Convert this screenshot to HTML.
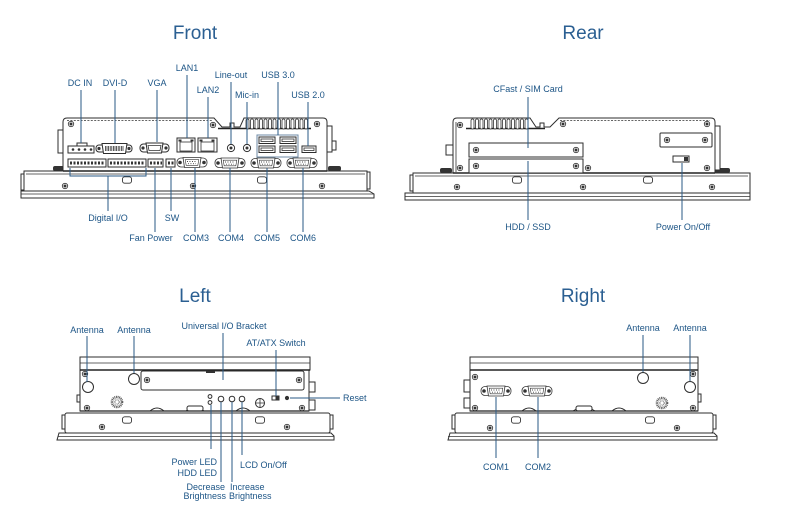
<!DOCTYPE html>
<html><head><meta charset="utf-8">
<style>
html,body{margin:0;padding:0;background:#fff;}
svg{display:block;}
.t{font-family:"Liberation Sans",Arial,sans-serif;font-size:9px;fill:#1d5586;}
.h{font-family:"Liberation Sans",Arial,sans-serif;font-size:19px;fill:#2b5f92;}
.c{stroke:#2a5a86;stroke-width:1;fill:none;}
.d{stroke:#2e2e2e;stroke-width:1;fill:#fff;}
.n{stroke:#333;stroke-width:0.8;fill:none;}
.k{fill:#333;stroke:none;}
</style></head>
<body>
<svg width="785" height="506" viewBox="0 0 785 506" xmlns="http://www.w3.org/2000/svg">
<defs>
 <g id="sc"><circle r="2.7" fill="#fff" stroke="#333" stroke-width="0.8"/><circle r="1.5" fill="#333"/></g>
 <rect id="sl" x="-4.5" y="-3.2" width="9" height="6.4" rx="2.2" fill="#fff" stroke="#333" stroke-width="0.9"/>
 <g id="db9">
  <rect x="-15" y="-4.5" width="30" height="9" rx="4" fill="#fff" stroke="#333" stroke-width="0.8"/>
  <circle cx="-12" cy="0" r="1.8" fill="#333"/>
  <circle cx="12" cy="0" r="1.8" fill="#333"/>
  <path d="M-9,-5 H9 L7.5,5 H-7.5 Z" fill="#fff" stroke="#333" stroke-width="0.8"/>
  <path d="M-6.8,-2.8 H6.8 L5.8,2.8 H-5.8 Z" fill="none" stroke="#333" stroke-width="0.6"/>
  <line x1="-5" y1="-1" x2="5" y2="-1" stroke="#333" stroke-width="0.9" stroke-dasharray="0.9,1.6"/>
  <line x1="-4" y1="1.2" x2="4" y2="1.2" stroke="#333" stroke-width="0.9" stroke-dasharray="0.9,1.6"/>
 </g>
 <g id="grill"><circle r="5" fill="none" stroke="#555" stroke-width="2.6" stroke-dasharray="0.9,0.7"/><circle r="2.2" fill="none" stroke="#777" stroke-width="1.4" stroke-dasharray="0.7,0.7"/></g>
 <g id="fin"><rect x="0" y="119" width="3" height="10" rx="1.5" fill="#fff" stroke="#333" stroke-width="0.8"/></g>
</defs>

<!-- Titles -->
<text class="h" x="195" y="39" text-anchor="middle">Front</text>
<text class="h" x="583" y="39" text-anchor="middle">Rear</text>
<text class="h" x="195" y="302" text-anchor="middle">Left</text>
<text class="h" x="583" y="302" text-anchor="middle">Right</text>

<!-- ================= FRONT ================= -->
<g>
 <rect class="d" x="24" y="171" width="343" height="20"/>
 <line class="n" x1="26" y1="174" x2="365" y2="174" stroke="#999"/>
 <path class="d" d="M21,191 H369 L374,194 V198 H21 Z"/>
 <line class="n" x1="21" y1="194" x2="374" y2="194"/>
 <rect class="d" x="21" y="174" width="3" height="16"/>
 <rect class="d" x="367" y="172" width="3" height="17"/>
 <use href="#sc" x="65" y="186"/><use href="#sc" x="193" y="186"/><use href="#sc" x="322" y="186"/>
 <use href="#sl" x="127" y="180"/><use href="#sl" x="262" y="180"/>
 <rect class="k" x="53" y="166" width="11" height="5" rx="2"/>
 <rect class="k" x="328" y="166" width="13" height="5" rx="2"/>
 <path class="d" stroke-width="1.1" d="M63,171 V122 Q63,118 67,118 H214 L222,127 H230 V123 H234 V127 H240 L244,118 H323 Q327,118 327,122 V171 Z"/>
 <line class="n" x1="67" y1="120.5" x2="213" y2="120.5" stroke-dasharray="2,1.4"/>
 <line x1="218" y1="128.5" x2="311" y2="128.5" stroke="#222" stroke-width="1.6"/>
 <use href="#fin" x="246"/><use href="#fin" x="250.5"/><use href="#fin" x="255"/><use href="#fin" x="259.5"/><use href="#fin" x="264"/><use href="#fin" x="268.5"/><use href="#fin" x="273"/><use href="#fin" x="277.5"/><use href="#fin" x="282"/><use href="#fin" x="286.5"/><use href="#fin" x="291"/><use href="#fin" x="295.5"/><use href="#fin" x="300"/><use href="#fin" x="304.5"/>
 <line x1="63" y1="171" x2="327" y2="171" stroke="#222" stroke-width="1.4"/>
 <use href="#sc" x="71" y="124"/><use href="#sc" x="213" y="125"/><use href="#sc" x="317" y="124"/>
 <rect class="d" x="58" y="130" width="5" height="23"/>
 <rect class="d" x="327" y="126" width="5" height="26"/>
 <rect class="d" x="332" y="141" width="4" height="9"/>
 <rect class="d" x="77" y="143" width="10" height="3"/>
 <rect class="d" x="68" y="146" width="26" height="7"/>
 <circle cx="73" cy="149.5" r="1.3" class="k"/><circle cx="79" cy="149.5" r="1.3" class="k"/><circle cx="85" cy="149.5" r="1.3" class="k"/><circle cx="91" cy="149.5" r="1.3" class="k"/>
 <rect class="d" x="96" y="145" width="36" height="7" rx="3"/>
 <circle cx="99" cy="148.5" r="1.6" class="k"/><circle cx="129" cy="148.5" r="1.6" class="k"/>
 <path class="d" d="M102,143.5 H127 L125.5,153.5 H103.5 Z"/>
 <line x1="105" y1="148.5" x2="124" y2="148.5" stroke="#333" stroke-width="5" stroke-dasharray="0.8,0.8"/>
 <rect class="d" x="140" y="144" width="29" height="8" rx="3.5"/>
 <circle cx="143" cy="148" r="1.6" class="k"/><circle cx="166" cy="148" r="1.6" class="k"/>
 <path class="d" d="M146,143 H163 L161.5,153 H147.5 Z"/>
 <path class="n" d="M148,145.5 H161 L160,150.5 H149 Z"/>
 <rect class="d" x="177" y="138" width="18" height="14"/>
 <rect class="n" x="180" y="142" width="12" height="9"/>
 <rect class="k" x="178.5" y="139.5" width="3" height="2"/><rect class="k" x="190.5" y="139.5" width="3" height="2"/>
 <rect class="d" x="198" y="138" width="19" height="14"/>
 <rect class="n" x="201" y="142" width="13" height="9"/>
 <rect class="k" x="199.5" y="139.5" width="3" height="2"/><rect class="k" x="211.5" y="139.5" width="3" height="2"/>
 <circle class="d" cx="231" cy="148" r="3.6"/><circle class="k" cx="231" cy="148" r="1.5"/>
 <circle class="d" cx="247" cy="148" r="3.6"/><circle class="k" cx="247" cy="148" r="1.5"/>
 <rect x="257" y="135" width="41" height="22" fill="#fff" stroke="#6d8aa6" stroke-width="1"/>
 <rect class="d" x="259" y="137" width="16" height="6.5"/><rect class="n" x="261" y="139" width="12" height="2.5"/>
 <rect class="d" x="280" y="137" width="16" height="6.5"/><rect class="n" x="282" y="139" width="12" height="2.5"/>
 <rect class="d" x="259" y="146" width="16" height="6.5"/><rect class="n" x="261" y="148" width="12" height="2.5"/>
 <rect class="d" x="280" y="146" width="16" height="6.5"/><rect class="n" x="282" y="148" width="12" height="2.5"/>
 <rect class="d" x="302" y="146" width="14" height="6.5"/><rect class="n" x="304" y="148" width="10" height="2.5"/>
 <rect class="d" x="68" y="159" width="38" height="8"/>
 <rect class="d" x="108" y="159" width="38" height="8"/>
 <rect class="d" x="148" y="159" width="15" height="8"/>
 <rect class="d" x="166" y="159" width="9" height="8"/>
 <line x1="70" y1="163" x2="105" y2="163" stroke="#333" stroke-width="3" stroke-dasharray="2,1.5"/>
 <line x1="110" y1="163" x2="145" y2="163" stroke="#333" stroke-width="3" stroke-dasharray="2,1.5"/>
 <line x1="150" y1="163" x2="162" y2="163" stroke="#333" stroke-width="3" stroke-dasharray="2,1.5"/>
 <line x1="168" y1="163" x2="174" y2="163" stroke="#333" stroke-width="3" stroke-dasharray="2,1.5"/>
 <use href="#db9" x="192" y="162.5"/>
 <use href="#db9" x="230" y="163"/>
 <use href="#db9" x="266" y="163"/>
 <use href="#db9" x="302" y="163"/>
 <path class="c" d="M81,90 V143 M115,90 V143 M157,90 V142 M187,75 V138 M208,97 V138 M231,82 V144 M247,102 V144 M278,82 V135 M308,102 V146"/>
 <path class="c" d="M70,168 V176 H146 V168 M108,176 V211 M155,168 V232 M171,168 V211 M195,168 V232 M230,168 V232 M267,168 V232 M303,168 V232"/>
 <text class="t" x="80" y="86" text-anchor="middle">DC IN</text>
 <text class="t" x="115" y="86" text-anchor="middle">DVI-D</text>
 <text class="t" x="157" y="86" text-anchor="middle">VGA</text>
 <text class="t" x="187" y="71" text-anchor="middle">LAN1</text>
 <text class="t" x="208" y="93" text-anchor="middle">LAN2</text>
 <text class="t" x="231" y="78" text-anchor="middle">Line-out</text>
 <text class="t" x="247" y="98" text-anchor="middle">Mic-in</text>
 <text class="t" x="278" y="78" text-anchor="middle">USB 3.0</text>
 <text class="t" x="308" y="98" text-anchor="middle">USB 2.0</text>
 <text class="t" x="108" y="221" text-anchor="middle">Digital I/O</text>
 <text class="t" x="172" y="221" text-anchor="middle">SW</text>
 <text class="t" x="151" y="241" text-anchor="middle">Fan Power</text>
 <text class="t" x="196" y="241" text-anchor="middle">COM3</text>
 <text class="t" x="231" y="241" text-anchor="middle">COM4</text>
 <text class="t" x="267" y="241" text-anchor="middle">COM5</text>
 <text class="t" x="303" y="241" text-anchor="middle">COM6</text>
</g>

<!-- ================= REAR ================= -->
<g>
 <rect class="d" x="413" y="173" width="337" height="20"/>
 <line class="n" x1="415" y1="176" x2="748" y2="176" stroke="#999"/>
 <path class="d" d="M405,193 H750 V200 H405 Z"/>
 <line class="n" x1="405" y1="196.5" x2="750" y2="196.5"/>
 <rect class="d" x="410" y="175" width="3" height="16"/>
 <use href="#sc" x="457" y="187"/><use href="#sc" x="583" y="187"/><use href="#sc" x="712" y="187"/>
 <use href="#sl" x="517" y="180"/><use href="#sl" x="648" y="180"/>
 <rect class="k" x="440" y="168" width="12" height="5" rx="2"/>
 <rect class="k" x="714" y="168" width="16" height="5" rx="2"/>
 <path class="d" stroke-width="1.1" d="M453,173 V122 Q453,118 457,118 H530 L536,127 H540 V123 H544 V127 H550 L559,118 H711 Q715,118 715,122 V173 Z"/>
 <line class="n" x1="456" y1="122" x2="456" y2="172"/>
 <line x1="466" y1="128.5" x2="545" y2="128.5" stroke="#222" stroke-width="1.6"/>
 <use href="#fin" x="471"/><use href="#fin" x="475.5"/><use href="#fin" x="480"/><use href="#fin" x="484.5"/><use href="#fin" x="489"/><use href="#fin" x="493.5"/><use href="#fin" x="498"/><use href="#fin" x="502.5"/><use href="#fin" x="507"/><use href="#fin" x="511.5"/><use href="#fin" x="516"/><use href="#fin" x="520.5"/><use href="#fin" x="525"/>
 <line class="n" x1="560" y1="120.5" x2="710" y2="120.5" stroke-dasharray="2,1.4"/>
 <line x1="453" y1="173" x2="715" y2="173" stroke="#222" stroke-width="1.4"/>
 <use href="#sc" x="460" y="125"/><use href="#sc" x="563" y="124"/><use href="#sc" x="707" y="124"/>
 <use href="#sc" x="460" y="168"/><use href="#sc" x="588" y="168"/><use href="#sc" x="707" y="168"/>
 <rect class="d" x="446" y="145" width="7" height="10"/>
 <rect class="d" x="715" y="126" width="5" height="44"/>
 <rect class="d" stroke-width="1.2" x="469" y="143" width="114" height="14"/>
 <rect class="d" stroke-width="1.2" x="469" y="159" width="114" height="14"/>
 <use href="#sc" x="476" y="150"/><use href="#sc" x="576" y="150"/>
 <use href="#sc" x="476" y="166"/><use href="#sc" x="576" y="166"/>
 <rect class="d" stroke-width="1.2" x="660" y="133" width="52" height="14" rx="1"/>
 <use href="#sc" x="667" y="140"/><use href="#sc" x="705" y="140"/>
 <rect class="d" x="673" y="156" width="16" height="6"/>
 <rect class="k" x="684" y="157" width="4" height="4"/>
 <path class="c" d="M528,97 V148 M528,161 V220 M682,163 V220"/>
 <text class="t" x="528" y="92" text-anchor="middle">CFast / SIM Card</text>
 <text class="t" x="528" y="230" text-anchor="middle">HDD / SSD</text>
 <text class="t" x="683" y="230" text-anchor="middle">Power On/Off</text>
</g>

<!-- ================= LEFT ================= -->
<g>
 <rect class="d" x="65" y="413" width="265" height="20" rx="2"/>
 <path class="d" d="M59,433 H331 L334,436 V440 H57 Z"/>
 <line class="n" x1="58" y1="436.5" x2="334" y2="436.5"/>
 <rect class="d" x="62" y="415" width="3" height="14"/>
 <rect class="d" x="330" y="415" width="3" height="14"/>
 <use href="#sc" x="102" y="427"/><use href="#sc" x="287" y="427"/>
 <use href="#sl" x="127" y="420"/><use href="#sl" x="260" y="420"/>
 <rect class="d" x="80" y="370" width="229" height="41"/>
 <rect class="d" x="80" y="357" width="230" height="13"/>
 <line class="n" x1="80" y1="363" x2="310" y2="363" stroke="#888"/>
 <line x1="80" y1="370" x2="310" y2="370" stroke="#222" stroke-width="1.5"/>
 <path class="d" d="M150,411 Q157,405 164,411 M186,411 Q195,404 204,411 M236,411 Q243,405 250,411"/>
 <rect class="d" x="187" y="406" width="16" height="5" rx="2"/>
 <line x1="80" y1="411" x2="309" y2="411" stroke="#222" stroke-width="1.2"/>
 <rect class="d" x="309" y="382" width="6" height="10"/>
 <rect class="d" x="309" y="400" width="6" height="10"/>
 <rect class="d" x="77" y="395" width="3" height="7"/>
 <rect class="d" stroke-width="1.2" x="141" y="371" width="163" height="19" rx="2"/>
 <rect class="k" x="206" y="371" width="9" height="2"/>
 <use href="#sc" x="147" y="380"/><use href="#sc" x="299" y="380"/>
 <use href="#sc" x="85" y="374"/>
 <circle class="d" cx="88" cy="387" r="5.5"/>
 <circle class="d" cx="134" cy="379" r="5.5"/>
 <use href="#grill" x="117" y="402"/>
 <use href="#sc" x="87" y="408"/><use href="#sc" x="302" y="408"/>
 <circle class="d" cx="210" cy="396.5" r="1.9"/>
 <circle class="d" cx="210" cy="402.5" r="1.9"/>
 <circle class="d" cx="221" cy="399" r="2.8"/>
 <circle class="d" cx="232" cy="399" r="2.8"/>
 <circle class="d" cx="242" cy="399" r="2.8"/>
 <circle class="d" cx="260" cy="403" r="4.5"/><path class="n" d="M256,403 H264 M260,399 V407"/>
 <rect class="d" x="272" y="396" width="7" height="4"/><rect class="k" x="275.5" y="396" width="3.5" height="4"/>
 <circle class="k" cx="287" cy="398" r="2.1"/>
 <path class="c" d="M87,336 V382 M134,336 V373 M223,333 V380 M276,350 V396 M290,398 H340 M211,405 V449 M221,402 V482 M232,402 V482 M242,402 V455"/>
 <text class="t" x="87" y="333" text-anchor="middle">Antenna</text>
 <text class="t" x="134" y="333" text-anchor="middle">Antenna</text>
 <text class="t" x="224" y="329" text-anchor="middle">Universal I/O Bracket</text>
 <text class="t" x="276" y="346" text-anchor="middle">AT/ATX Switch</text>
 <text class="t" x="343" y="401">Reset</text>
 <text class="t" x="217" y="465" text-anchor="end">Power LED</text>
 <text class="t" x="217" y="476" text-anchor="end">HDD LED</text>
 <text class="t" x="225" y="490" text-anchor="end">Decrease</text>
 <text class="t" x="226" y="499" text-anchor="end">Brightness</text>
 <text class="t" x="230" y="490">Increase</text>
 <text class="t" x="229" y="499">Brightness</text>
 <text class="t" x="240" y="468">LCD On/Off</text>
</g>

<!-- ================= RIGHT ================= -->
<g>
 <rect class="d" x="455" y="413" width="258" height="20" rx="2"/>
 <path class="d" d="M450,433 H714 L717,436 V440 H448 Z"/>
 <line class="n" x1="448" y1="436.5" x2="717" y2="436.5"/>
 <rect class="d" x="452" y="415" width="3" height="14"/>
 <rect class="d" x="713" y="415" width="3" height="14"/>
 <use href="#sc" x="490" y="428"/><use href="#sc" x="677" y="428"/>
 <use href="#sl" x="516" y="420"/><use href="#sl" x="650" y="420"/>
 <rect class="d" x="470" y="370" width="228" height="41"/>
 <rect class="d" x="470" y="357" width="228" height="13"/>
 <line class="n" x1="470" y1="363" x2="698" y2="363" stroke="#888"/>
 <line x1="470" y1="370" x2="698" y2="370" stroke="#222" stroke-width="1.5"/>
 <path class="d" d="M522,411 Q529,405 536,411 M573,411 Q584,404 595,411 M612,411 Q619,405 626,411"/>
 <rect class="d" x="576" y="406" width="16" height="5" rx="2"/>
 <line x1="470" y1="411" x2="698" y2="411" stroke="#222" stroke-width="1.2"/>
 <rect class="d" x="464" y="380" width="6" height="12"/>
 <rect class="d" x="464" y="398" width="6" height="10"/>
 <rect class="d" x="698" y="394" width="3" height="8"/>
 <use href="#sc" x="475" y="377"/><use href="#sc" x="475" y="408"/><use href="#sc" x="693" y="408"/><use href="#sc" x="693" y="374"/>
 <use href="#db9" x="496" y="391"/>
 <use href="#db9" x="537" y="391"/>
 <circle class="d" cx="643" cy="378" r="5.5"/>
 <circle class="d" cx="690" cy="387" r="5.5"/>
 <use href="#grill" x="662" y="403"/>
 <path class="c" d="M643,335 V372 M690,335 V381 M496,397 V458 M538,397 V458"/>
 <text class="t" x="643" y="331" text-anchor="middle">Antenna</text>
 <text class="t" x="690" y="331" text-anchor="middle">Antenna</text>
 <text class="t" x="496" y="470" text-anchor="middle">COM1</text>
 <text class="t" x="538" y="470" text-anchor="middle">COM2</text>
</g>
</svg>
</body></html>
